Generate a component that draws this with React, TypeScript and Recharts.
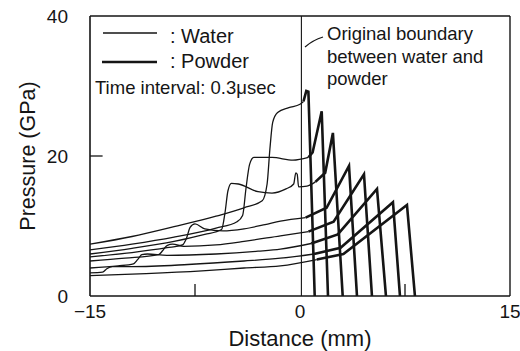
import React from 'react';
import { LineChart, Line, XAxis, YAxis, ReferenceLine } from 'recharts';

const INK = '#151515';
const FONT = '"Liberation Sans", Arial, sans-serif';

const xTicks = [-15, 0, 15];
const yTicks = [0, 20, 40];
const xMinorTicks = [-7.5, 7.5];
const boundaryX = 0.1;

// [distance (mm), pressure (GPa)], one profile every 0.3 usec
const water1 = [[-15, 7.4], [-12, 8.5], [-9, 9.9], [-6, 11.4], [-4, 12.6], [-2.7, 13.6], [-2.35, 16], [-2.15, 21], [-1.95, 24.8], [-1.6, 26.2], [-0.8, 26.9], [0, 27.4], [0.25, 27.8]];
const powder1 = [[0.25, 27.8], [0.45, 29.3], [0.6, 29.2], [1.05, 0]];

const water2 = [[-15, 6.6], [-12, 7.4], [-9, 8.4], [-6, 9.7], [-4.5, 10.6], [-4.1, 11.5], [-3.85, 15.5], [-3.6, 18.8], [-3.3, 19.8], [-2, 19.8], [-0.5, 19.4], [0.6, 19.8]];
const powder2 = [[0.6, 19.8], [0.9, 20.5], [1.55, 26.4], [2.0, 0]];

const water3 = [[-15, 6.0], [-12, 6.8], [-9, 7.8], [-6.8, 8.8], [-5.6, 9.5], [-5.35, 12], [-5.15, 15], [-4.9, 16.1], [-4.4, 16], [-3, 14.9], [-2, 14.7], [-1, 15.3], [-0.45, 16], [-0.3, 17.6], [-0.2, 17.4], [-0.1, 15.6], [0.5, 15.7], [1.1, 16.3]];
const powder3 = [[1.1, 16.3], [1.8, 17.6], [2.35, 23.3], [3.05, 0]];

const water4 = [[-15, 5.6], [-12, 6.2], [-9.5, 6.9], [-8.4, 7.3], [-8.1, 8.3], [-7.85, 9.8], [-7.5, 10.3], [-6.8, 9.6], [-5.5, 9.3], [-4, 9.6], [-2.5, 10.2], [-1.4, 10.7], [0.4, 11.2]];
const powder4 = [[0.4, 11.2], [1.9, 12.6], [3.5, 18.6], [4.07, 0]];

const water5 = [[-15, 5.0], [-12.5, 5.4], [-10.1, 5.9], [-9.8, 6.5], [-9.5, 7.2], [-9.1, 7.4], [-8.3, 7.1], [-6, 7.3], [-4, 7.8], [-1.4, 8.6], [0.6, 9.2]];
const powder5 = [[0.6, 9.2], [2.4, 10.6], [4.57, 17.4], [5.14, 0]];

const water6 = [[-15, 4.0], [-13, 4.3], [-11.9, 4.6], [-11.6, 5.2], [-11.3, 5.9], [-10.9, 6.0], [-9.5, 5.8], [-6, 6.0], [-3, 6.4], [-1.4, 6.7], [0.8, 7.5]];
const powder6 = [[0.8, 7.5], [2.7, 8.8], [5.5, 15.3], [6.14, 0]];

const water7 = [[-15, 3.3], [-14.1, 3.4], [-13.8, 3.9], [-13.4, 4.2], [-12, 4.2], [-8, 4.5], [-4, 5.0], [-1.4, 5.4], [1.0, 6.0]];
const powder7 = [[1.0, 6.0], [2.9, 6.9], [6.64, 13.4], [7.14, 0]];

const water8 = [[-15, 2.9], [-11, 3.2], [-7, 3.6], [-4, 4.0], [-1.4, 4.3], [1.2, 5.2]];
const powder8 = [[1.2, 5.2], [3.1, 6.0], [7.64, 13.0], [8.21, 0]];

const profiles = [
  [water1, powder1], [water2, powder2], [water3, powder3], [water4, powder4],
  [water5, powder5], [water6, powder6], [water7, powder7], [water8, powder8],
];

const toPts = (arr: number[][]) => arr.map(([x, p]) => ({ x, p }));

const fmtX = (v: number) => (v < 0 ? `\u2212${Math.abs(v)}` : `${v}`);

const textStyle = { fill: INK, fontFamily: FONT };

export default function App() {
  return (
    <div style={{ position: 'absolute', left: 0, top: 0, width: 520, height: 351, background: '#fff' }}>
      <LineChart width={520} height={351} margin={{ top: 16, right: 10, bottom: 5, left: 0 }}>
        <XAxis
          type="number"
          dataKey="x"
          domain={[-15, 15]}
          ticks={xTicks}
          tickFormatter={fmtX}
          allowDataOverflow
          height={50}
          tickSize={0}
          tickMargin={9}
          tickLine={false}
          axisLine={{ stroke: INK, strokeWidth: 1.6 }}
          tick={{ ...textStyle, fontSize: 19 }}
          label={{ value: 'Distance (mm)', position: 'insideBottom', offset: 0, style: { ...textStyle, fontSize: 22 } }}
        />
        <YAxis
          type="number"
          domain={[0, 40]}
          ticks={yTicks}
          allowDataOverflow
          width={90}
          tickSize={0}
          tickMargin={22}
          tickLine={false}
          axisLine={{ stroke: INK, strokeWidth: 1.6 }}
          tick={{ ...textStyle, fontSize: 19 }}
          label={{ value: 'Pressure (GPa)', angle: -90, position: 'insideLeft', offset: 27, style: { ...textStyle, fontSize: 21.5, textAnchor: 'middle' } }}
        />
        <ReferenceLine y={40} stroke={INK} strokeWidth={1.4} />
        <ReferenceLine x={15} stroke={INK} strokeWidth={1.4} />
        <ReferenceLine x={boundaryX} stroke={INK} strokeWidth={1.1} />
        {xMinorTicks.map((t) => (
          <ReferenceLine key={'xt' + t} segment={[{ x: t, y: 0 }, { x: t, y: 1.7 }]} stroke={INK} strokeWidth={1.3} />
        ))}
        <ReferenceLine segment={[{ x: -15, y: 20 }, { x: -14.1, y: 20 }]} stroke={INK} strokeWidth={1.3} />
        {profiles.map(([w, p], i) => [
          <Line
            key={'w' + i}
            data={toPts(w)}
            dataKey="p"
            type="monotone"
            stroke={INK}
            strokeWidth={1.3}
            dot={false}
            activeDot={false}
            legendType="none"
            isAnimationActive={false}
          />,
          <Line
            key={'p' + i}
            data={toPts(p)}
            dataKey="p"
            type="linear"
            stroke={INK}
            strokeWidth={2.6}
            strokeLinejoin="miter"
            dot={false}
            activeDot={false}
            legendType="none"
            isAnimationActive={false}
          />,
        ])}
      </LineChart>

      {/* legend + annotation */}
      <svg width={520} height={351} style={{ position: 'absolute', left: 0, top: 0, pointerEvents: 'none' }}>
        <line x1={103} y1={33} x2={157} y2={33} stroke={INK} strokeWidth={1.3} />
        <text x={170} y={43} {...textStyle} fontSize={20}>: Water</text>
        <line x1={102} y1={62} x2={157} y2={62} stroke={INK} strokeWidth={2.6} />
        <text x={170} y={68} {...textStyle} fontSize={20}>: Powder</text>
        <text x={95} y={94} {...textStyle} fontSize={18.5}>Time interval: 0.3{'\u03bc'}sec</text>

        <path d="M305,47 Q313,40 323,37" fill="none" stroke={INK} strokeWidth={1.2} />
        <text x={327} y={40} {...textStyle} fontSize={18.5}>Original boundary</text>
        <text x={327} y={63} {...textStyle} fontSize={18.5}>between water and</text>
        <text x={327} y={85} {...textStyle} fontSize={18.5}>powder</text>
      </svg>
    </div>
  );
}
